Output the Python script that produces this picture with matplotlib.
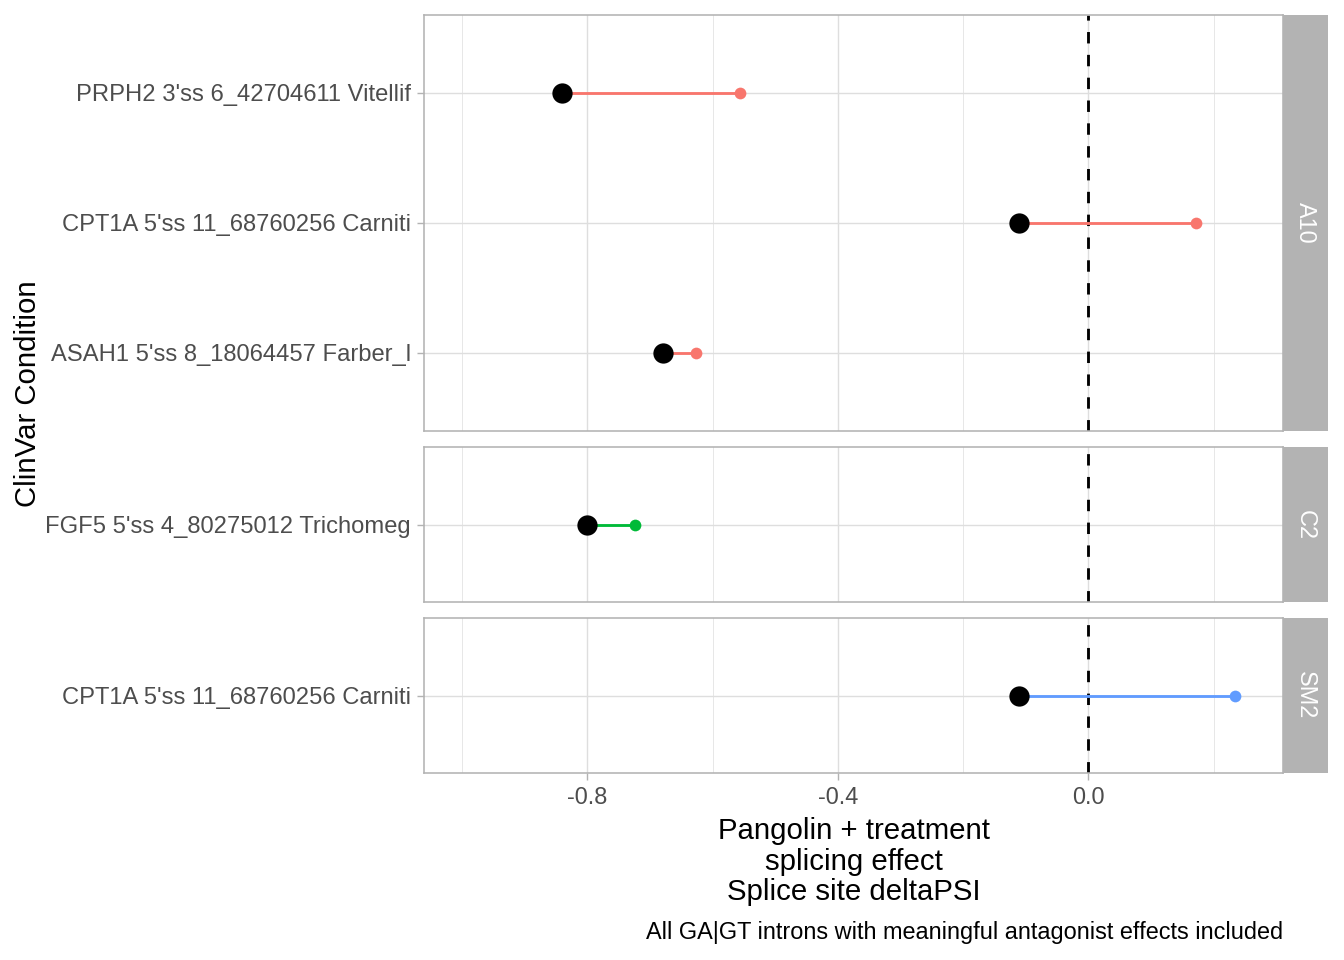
import matplotlib.pyplot as plt
import numpy as np

plt.rcParams['font.family'] = ['Liberation Sans', 'DejaVu Sans']

# facets and rows (top to bottom inside each facet)
facets = ["A10", "C2", "SM2"]
labels = {
    "A10": ["PRPH2 3'ss 6_42704611 Vitellif",
            "CPT1A 5'ss 11_68760256 Carniti",
            "ASAH1 5'ss 8_18064457 Farber_l"],
    "C2": ["FGF5 5'ss 4_80275012 Trichomeg"],
    "SM2": ["CPT1A 5'ss 11_68760256 Carniti"],
}
# black dot = pangolin prediction, coloured dot = pangolin + treatment
pangolin = {
    "A10": [-0.840, -0.110, -0.680],
    "C2": [-0.800],
    "SM2": [-0.110],
}
treated = {
    "A10": [-0.557, 0.172, -0.626],
    "C2": [-0.724],
    "SM2": [0.235],
}
colors = {"A10": "#F8766D", "C2": "#00BA38", "SM2": "#619CFF"}

major_ticks = [-0.8, -0.4, 0.0]
minor_ticks = [-1.0, -0.6, -0.2, 0.2]
xlim = (-1.061, 0.311)

W, H = 1344, 960
fig = plt.figure(figsize=(7, 5), dpi=192)

# panel boxes in pixels (top, bottom)
boxes = {"A10": (15, 431), "C2": (447, 602), "SM2": (618, 773)}
left, right, strip_w = 424, 1283, 45

grey70 = "#B3B3B3"
grey87 = "#DEDEDE"
border_lw = 0.6

for f in facets:
    top, bot = boxes[f]
    ax = fig.add_axes([left / W, 1 - bot / H, (right - left) / W, (bot - top) / H])
    n = len(labels[f])
    ys = np.arange(n)[::-1] + 1
    ax.set_xlim(*xlim)
    ax.set_ylim(0.4, n + 0.6)

    for x in minor_ticks:
        ax.axvline(x, color=grey87, lw=0.27, zorder=0)
    for x in major_ticks:
        ax.axvline(x, color=grey87, lw=0.53, zorder=0)
    for y in ys:
        ax.axhline(y, color=grey87, lw=0.53, zorder=0)

    ax.axvline(0, color="black", lw=1.07, ls=(0, (4, 4)), zorder=1)

    for y, p, t in zip(ys, pangolin[f], treated[f]):
        ax.plot([p, t], [y, y], color=colors[f], lw=1.07, zorder=2,
                solid_capstyle="butt")
    ax.plot(treated[f], ys, "o", color=colors[f], ms=4.4, mew=0, zorder=3)
    ax.plot(pangolin[f], ys, "o", color="black", ms=7.6, mew=0, zorder=4)

    ax.set_yticks(ys)
    ax.set_yticklabels(labels[f], fontsize=8.9, color="#4D4D4D")
    ax.tick_params(axis="y", length=2.75, width=0.53, color=grey70, pad=2.2)
    if f == "SM2":
        ax.set_xticks(major_ticks)
        ax.set_xticklabels(["-0.8", "-0.4", "0.0"], fontsize=8.8, color="#4D4D4D")
        ax.tick_params(axis="x", length=2.75, width=0.53, color=grey70, pad=2.2)
        ax.set_xlabel("Pangolin + treatment\nsplicing effect\nSplice site deltaPSI",
                      fontsize=11, linespacing=1.12, labelpad=3)
    else:
        ax.set_xticks([])
    for s in ax.spines.values():
        s.set_color(grey70)
        s.set_linewidth(border_lw)
        s.set_zorder(5)

    # strip on the right
    sax = fig.add_axes([right / W, 1 - bot / H, strip_w / W, (bot - top) / H])
    sax.set_facecolor(grey70)
    sax.set_xticks([])
    sax.set_yticks([])
    for s in sax.spines.values():
        s.set_visible(False)
    sax.text(0.5, 0.5, f, rotation=-90, color="white", fontsize=8.8,
             ha="center", va="center", transform=sax.transAxes)

fig.text(28 / W, 1 - 394 / H, "ClinVar Condition", rotation=90, fontsize=11,
         ha="center", va="center")
fig.text(right / W, 1 - 932 / H,
         "All GA|GT introns with meaningful antagonist effects included",
         fontsize=8.8, ha="right", va="center")

fig.savefig("out.png", dpi=192)
